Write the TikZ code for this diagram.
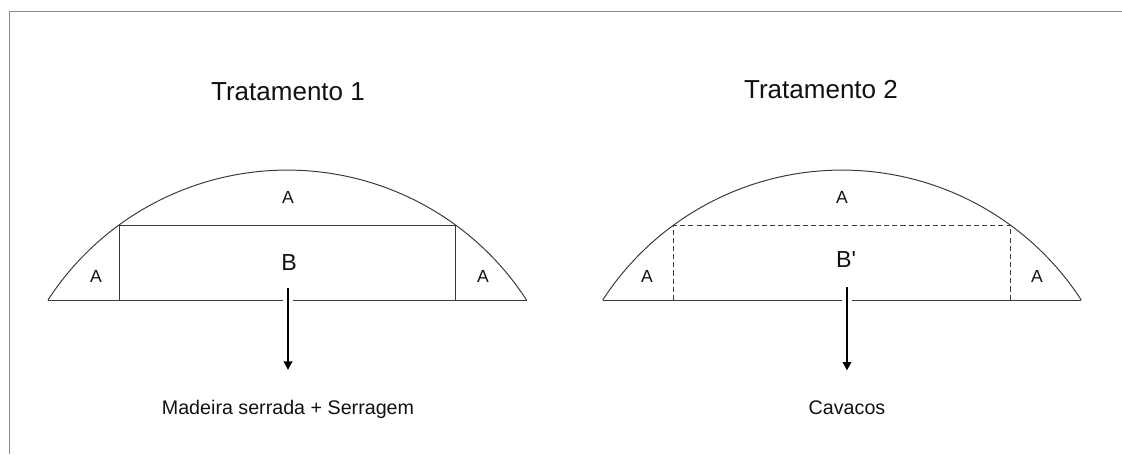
\documentclass[tikz,border=0pt]{standalone}
\usepackage{fontspec}
\setmainfont{Liberation Sans}
\usetikzlibrary{arrows.meta}
\definecolor{trframe}{HTML}{8A8A8A}
\definecolor{trink}{HTML}{111111}
\definecolor{trline}{HTML}{3A3A3A}
\tikzset{
  trtitle/.style={
    anchor=base, inner sep=0pt, text=trink,
    font=\fontsize{18.5}{22}\selectfont},
  trpart/.style={
    anchor=base, inner sep=0pt, text=trink,
    font=\fontsize{12.5}{15}\selectfont},
  trcore/.style={
    anchor=base, inner sep=0pt, text=trink,
    font=\fontsize{16.5}{20}\selectfont},
  trout/.style={
    anchor=base, inner sep=0pt, text=trink,
    font=\fontsize{14}{17}\selectfont},
  trlog/.style={draw=trline, line width=0.7pt},
  trcut/.style={trlog, dash pattern=on 3.6pt off 2.2pt},
  trarrow/.style={
    -{Triangle[length=6pt, width=6pt]}, draw=black, line width=1.8pt,
    shorten >=21pt, preaction={draw=white, line width=7.5pt, -}},
  every picture/.style={line cap=butt},
}

\begin{document}
\begin{tikzpicture}[x=0.025cm, y=-0.025cm]
\useasboundingbox (0,0) rectangle (1122,454);

% Frame, cut off at the right and at the bottom.
\draw[trframe, line width=1.1pt] (1122,11.5) -- (9.5,11.5) -- (9.5,454);

% Treatment 1: sawn wood and sawdust.
\node[trtitle] (tit1) at (288,100) {Tratamento 1};
\draw[trlog] (48,300) arc[start angle=213, end angle=327, radius=285.3];
\draw[trlog] (48,300) -- (527,300);
\draw[trlog] (119,300) |- (455.6,225) -- (455.6,300);
\node[trpart] (a1top) at (288,203) {A};
\node[trcore] (b1) at (289,270) {B};
\node[trpart] (a1left) at (96,282) {A};
\node[trpart] (a1right) at (483,282) {A};
\coordinate (src1) at (288,288);
\node[trout] (out1) at (288,414) {Madeira serrada + Serragem};
\draw[trarrow] (src1) -- (out1.north);

% Treatment 2: chips.
\node[trtitle] (tit2) at (821,98) {Tratamento 2};
\draw[trlog] (602.7,300) arc[start angle=213, end angle=327, radius=285.3];
\draw[trlog] (602.7,300) -- (1081.3,300);
\draw[trcut] (673.7,300) |- (1010.3,225) -- (1010.3,300);
\node[trpart] (a2top) at (842,203) {A};
\node[trcore] (b2) at (846,267) {B\textquotesingle};
\node[trpart] (a2left) at (647,282) {A};
\node[trpart] (a2right) at (1037,282) {A};
\coordinate (src2) at (847,287);
\node[trout] (out2) at (847,414) {Cavacos};
\draw[trarrow] (src2) -- (out2.north);

\end{tikzpicture}
\end{document}
